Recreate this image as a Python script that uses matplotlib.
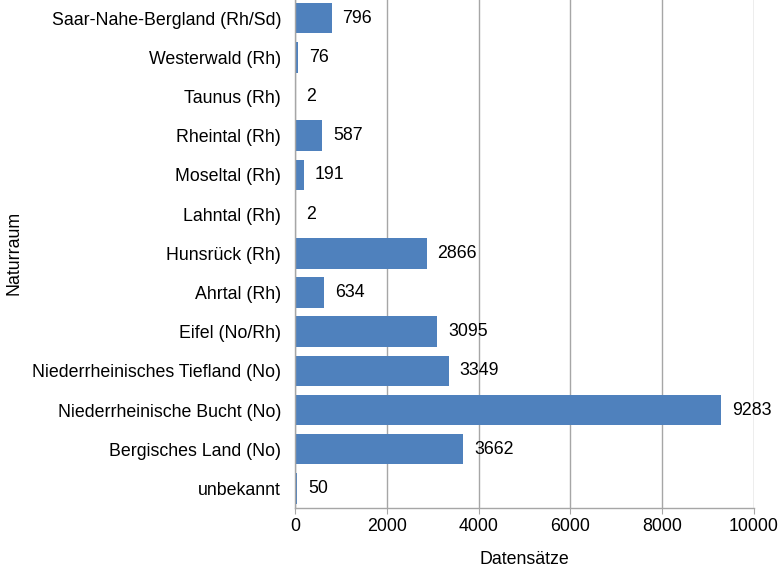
import matplotlib
matplotlib.use("Agg")
import matplotlib.pyplot as plt

plt.rcParams['font.family'] = ['Liberation Sans', 'DejaVu Sans']

categories = [
    "unbekannt",
    "Bergisches Land (No)",
    "Niederrheinische Bucht (No)",
    "Niederrheinisches Tiefland (No)",
    "Eifel (No/Rh)",
    "Ahrtal (Rh)",
    "Hunsrück (Rh)",
    "Lahntal (Rh)",
    "Moseltal (Rh)",
    "Rheintal (Rh)",
    "Taunus (Rh)",
    "Westerwald (Rh)",
    "Saar-Nahe-Bergland (Rh/Sd)",
]
values = [50, 3662, 9283, 3349, 3095, 634, 2866, 2, 191, 587, 2, 76, 796]
x_ticks = [0, 2000, 4000, 6000, 8000, 10000]

W, H = 783, 567
fig = plt.figure(figsize=(W / 100, H / 100), dpi=100)
left, right, bottom, top = 295, 754, 508, -1.5
ax = fig.add_axes([left / W, (H - bottom) / H, (right - left) / W, (bottom - top) / H])

bar_color = "#4F81BD"
grid_color = "#A6A6A6"
fs = 12.8

pos = list(range(len(categories)))
ax.barh(pos, values, height=0.78, color=bar_color, zorder=2)

for p, v in zip(pos, values):
    ax.text(v + 240, p, f"{v}", va="center", ha="left", fontsize=fs, color="black", zorder=4)

ax.set_xlim(0, 10000)
ax.set_ylim(-0.5, len(categories) - 0.5)
ax.set_xticks(x_ticks)
ax.set_xticklabels([str(t) for t in x_ticks], fontsize=fs)
ax.set_yticks(pos)
ax.set_yticklabels(categories, fontsize=fs)

ax.xaxis.grid(True, color=grid_color, linewidth=1.0, zorder=0)
ax.set_axisbelow(True)
for s in ["top", "right"]:
    ax.spines[s].set_visible(False)
for s in ["left", "bottom"]:
    ax.spines[s].set_color(grid_color)
    ax.spines[s].set_linewidth(1.0)

ax.tick_params(axis="y", length=0, pad=10)
ax.tick_params(axis="x", length=4, color=grid_color, pad=3)

ax.set_xlabel("Datensätze", fontsize=fs, labelpad=12)
ax.set_ylabel("Naturraum", fontsize=fs)
ax.yaxis.set_label_coords(-(left - 23) / (right - left), 0.5)

fig.savefig("out.png", dpi=100)
